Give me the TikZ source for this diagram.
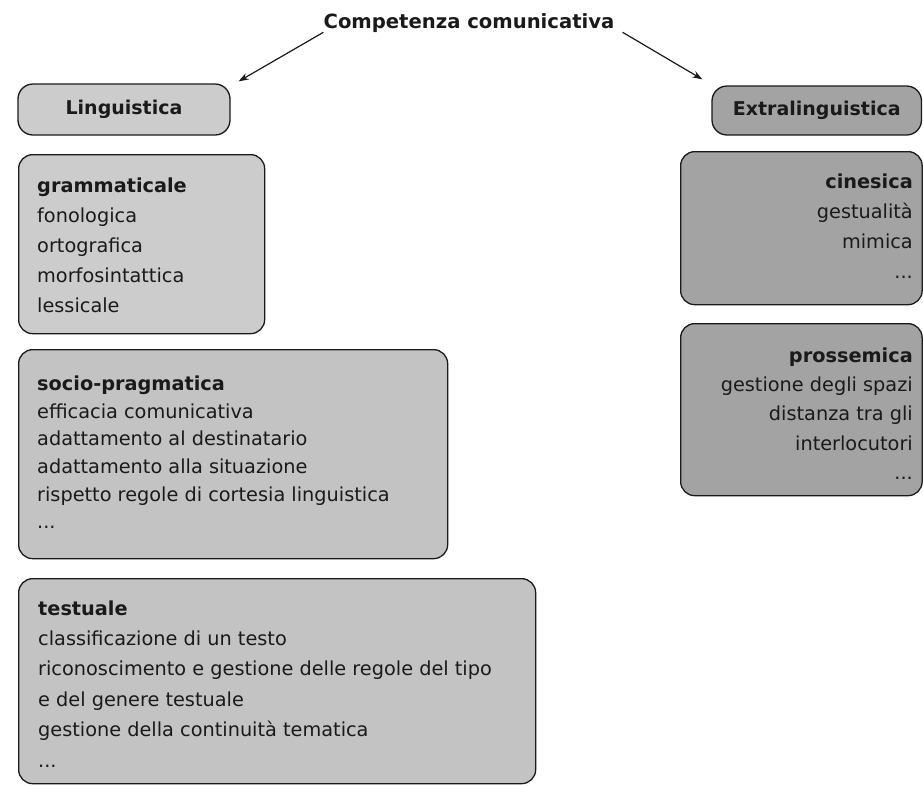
\documentclass[tikz,border=0pt]{standalone}
\usepackage{fontspec}
\setmainfont{DejaVu Sans}
\usetikzlibrary{arrows.meta,calc}

\definecolor{ink}{HTML}{1A1A1A}
\definecolor{lightFill}{HTML}{CCCCCC}
\definecolor{midFill}{HTML}{C3C3C3}
\definecolor{darkFill}{HTML}{A3A3A3}

\begin{document}
\begin{tikzpicture}[x=1pt,y=-1pt,
  panel/.style={draw=ink, line width=1.3pt, rounded corners=14pt,
    anchor=north west, inner sep=0pt},
  tag/.style={draw=ink, line width=1.3pt, rounded corners=15pt,
    inner sep=0pt, text=ink, font=\fontsize{19}{19}\selectfont\bfseries},
  listL/.style={anchor=north west, align=left, inner sep=0pt, text=ink},
  listR/.style={anchor=north east, align=right, inner sep=0pt, text=ink},
  link/.style={draw=ink, line width=1.2pt, -{Stealth[length=10pt,width=7pt]}}
]
% canvas
\useasboundingbox (0,0) rectangle (923,785);
\fill[white] (0,0) rectangle (923,785);

% root
\node[anchor=base, inner sep=0pt, text=ink,
  font=\fontsize{19.6}{20}\selectfont\bfseries] (title) at (469,28)
  {Competenza comunicativa};

% the two branches
\node[tag, fill=lightFill, minimum width=212pt, minimum height=51pt]
  (ling) at (124,109.5) {Linguistica};
\node[tag, fill=darkFill, minimum width=209.5pt, minimum height=49pt]
  (extra) at (816.75,110.5) {Extralinguistica};

\draw[link] (title.south west) -- ($(ling.north east)+(8,-2)$);
\draw[link] ($(title.south east)+(8,0)$) -- ($(extra.north west)+(-9,-6)$);

% linguistic competences
\node[panel, fill=lightFill, minimum width=246pt, minimum height=179pt]
  (gram) at (18,154) {};
\node[listL, font=\fontsize{19.3}{30}\selectfont] (gramtxt) at (37,177.3)
  {\textbf{grammaticale}\\fonologica\\ortografica\\morfosintattica\\lessicale};

\node[panel, fill=midFill, minimum width=429pt, minimum height=209pt]
  (socio) at (18,349) {};
\node[listL, font=\fontsize{19.3}{27.6}\selectfont] (sociotxt) at (37,375.8)
  {\textbf{socio-pragmatica}\\efficacia comunicativa\\adattamento al destinatario\\
   adattamento alla situazione\\rispetto regole di cortesia linguistica\\...};

\node[panel, fill=midFill, minimum width=517pt, minimum height=205pt]
  (text) at (18,578) {};
\node[listL, font=\fontsize{19.3}{30.4}\selectfont] (texttxt) at (38,600.3)
  {\textbf{testuale}\\classificazione di un testo\\
   riconoscimento e gestione delle regole del tipo\\e del genere testuale\\
   gestione della continuità tematica\\...};

% extralinguistic competences
\node[panel, fill=darkFill, minimum width=241.5pt, minimum height=153pt]
  (cine) at (680,151) {};
\node[listR, font=\fontsize{19.3}{30}\selectfont] (cinetxt) at (913,173.3)
  {\textbf{cinesica}\\gestualità\\mimica\\...};

\node[panel, fill=darkFill, minimum width=241.5pt, minimum height=172pt]
  (pross) at (680,323) {};
\node[listR, font=\fontsize{19.3}{29.3}\selectfont] (prosstxt) at (913,347.3)
  {\textbf{prossemica}\\gestione degli spazi\\distanza tra gli\\interlocutori\\...};
\end{tikzpicture}
\end{document}
